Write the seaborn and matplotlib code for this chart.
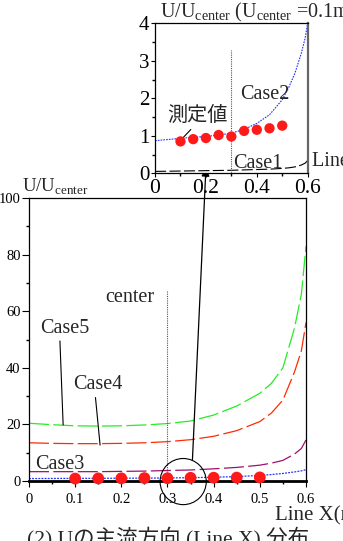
import numpy as np
import pandas as pd
import matplotlib
matplotlib.use("Agg")
import matplotlib.pyplot as plt
from matplotlib.patches import Ellipse
import seaborn as sns

# ---- data ----
line_x = [0, 0.05, 0.1, 0.15, 0.2, 0.25, 0.3, 0.35, 0.4, 0.45, 0.5, 0.525, 0.55, 0.575, 0.59, 0.6]
case1 = [0.05, 0.055, 0.06, 0.065, 0.07, 0.075, 0.08, 0.09, 0.10, 0.11, 0.13, 0.145, 0.17, 0.22, 0.27, 0.34]
case2 = [0.87, 0.90, 0.93, 0.96, 0.98, 1.02, 1.07, 1.17, 1.33, 1.56, 1.96, 2.28, 2.67, 3.2, 3.6, 4.0]
case3 = [3.3, 3.3, 3.3, 3.3, 3.4, 3.5, 3.7, 3.9, 4.3, 4.8, 5.6, 6.3, 7.3, 9.5, 11.5, 14.5]
case4 = [13.5, 13.3, 13.2, 13.2, 13.3, 13.5, 13.9, 14.6, 15.8, 17.8, 21.0, 24.0, 28.6, 38.5, 46.0, 56.0]
case5 = [20.4, 19.9, 19.5, 19.4, 19.5, 19.8, 20.3, 21.2, 23.3, 26.5, 31.0, 34.5, 40.0, 54.0, 66.0, 83.0]

meas_x = [0.1, 0.15, 0.2, 0.25, 0.3, 0.35, 0.4, 0.45, 0.5]
meas_y = [0.85, 0.91, 0.94, 1.02, 0.98, 1.13, 1.16, 1.20, 1.27]

main_xticks = [0, 0.1, 0.2, 0.3, 0.4, 0.5, 0.6]
main_xlabels = ["0", "0.1", "0.2", "0.3", "0.4", "0.5", "0.6"]
main_yticks = [0, 20, 40, 60, 80, 100]
inset_xticks = [0, 0.2, 0.4, 0.6]
inset_xlabels = ["0", "0.2", "0.4", "0.6"]
inset_yticks = [0, 1, 2, 3, 4]

sns.set_theme(style="ticks")
plt.rcParams.update({
    "font.family": ["Liberation Serif", "Noto Sans CJK JP"],
    "mathtext.fontset": "custom",
    "mathtext.rm": "Liberation Serif",
    "axes.linewidth": 0.9,
    "axes.edgecolor": "black",
    "xtick.color": "black",
    "ytick.color": "black",
    "xtick.major.size": 4.5,
    "ytick.major.size": 5,
    "xtick.minor.size": 2.5,
    "ytick.minor.size": 2.5,
    "xtick.major.width": 0.8,
    "ytick.major.width": 0.8,
})

df = pd.DataFrame({"x": line_x, "c1": case1, "c2": case2, "c3": case3, "c4": case4, "c5": case5})
dm = pd.DataFrame({"x": meas_x, "y": meas_y})

fig = plt.figure(figsize=(3.43, 5.41), dpi=100)
ax = fig.add_axes([0.0845, 0.1109, 0.8076, 0.5231])
ax_in = fig.add_axes([0.452, 0.6797, 0.445, 0.2773])

long_dash = (0, (16, 3.5))

# ---- main chart ----
sns.lineplot(data=df, x="x", y="c5", ax=ax, color="#22ee22", lw=0.9, linestyle=long_dash)
sns.lineplot(data=df, x="x", y="c4", ax=ax, color="#ff2a00", lw=0.9, linestyle=long_dash)
sns.lineplot(data=df, x="x", y="c3", ax=ax, color="#a0106a", lw=0.9, linestyle=long_dash)
sns.lineplot(data=df, x="x", y="c2", ax=ax, color="#2233ff", lw=0.9, linestyle=(0, (1.5, 1)))
sns.scatterplot(data=dm, x="x", y="y", ax=ax, color="#ff1a1a", s=72, edgecolor="none",
                zorder=5, clip_on=False)

ax.set_xlim(0, 0.6)
ax.set_ylim(0, 100)
ax.set_xticks(main_xticks, main_xlabels, fontsize=10.5)
ax.set_xticks(np.arange(0.05, 0.6, 0.1), minor=True)
ax.set_yticks(main_yticks, [str(v) for v in main_yticks], fontsize=10.5)
ax.set_yticks(np.arange(10, 100, 20), minor=True)
ax.set_xlabel("")
ax.set_ylabel("")
ax.tick_params(axis="x", pad=4)
ax.tick_params(axis="y", pad=1)
ax.spines["bottom"].set_linewidth(2.0)
ax.axvline(0.3, ymax=0.67, color="#555555", lw=0.8, ls=(0, (1, 1)))

ax.text(-0.026, 1.04, r"U/U$_{\mathrm{center}}$", transform=ax.transAxes,
        ha="left", va="center", fontsize=13.5)
ax.text(0.888, -0.124, "Line X(m)", transform=ax.transAxes, ha="left", va="center",
        fontsize=15)
ax.text(0.165, 65, "center", ha="left", va="center", fontsize=14.5)
ax.annotate("Case5", xy=(0.074, 19.8), xytext=(0.024, 54), ha="left", va="center",
            fontsize=14.5, arrowprops=dict(arrowstyle="-", color="black", lw=0.8,
                                           shrinkA=0, shrinkB=0, relpos=(0.4, 0.05)))
ax.annotate("Case4", xy=(0.154, 12.7), xytext=(0.095, 34), ha="left", va="center",
            fontsize=14.5, arrowprops=dict(arrowstyle="-", color="black", lw=0.8,
                                           shrinkA=0, shrinkB=0, relpos=(0.45, 0.05)))
ax.text(0.013, 6.0, "Case3", ha="left", va="center", fontsize=14.5)

circ = Ellipse((0.334, -0.2), width=0.1, height=16.3, fill=False, edgecolor="black",
               lw=0.8, clip_on=False, zorder=6)
ax.add_patch(circ)

# ---- inset ----
sns.lineplot(data=df, x="x", y="c2", ax=ax_in, color="#2233ff", lw=0.8, linestyle=(0, (1.5, 1)))
sns.lineplot(data=df, x="x", y="c1", ax=ax_in, color="black", lw=0.8, linestyle=(0, (10, 3)))
sns.scatterplot(data=dm, x="x", y="y", ax=ax_in, color="#ff1a1a", s=55, edgecolor="none",
                zorder=5)
ax_in.set_xlim(0, 0.6)
ax_in.set_ylim(0, 4)
ax_in.set_xticks(inset_xticks, inset_xlabels, fontsize=15.5)
ax_in.set_xticks([0.1, 0.3, 0.5], minor=True)
ax_in.set_yticks(inset_yticks, [str(v) for v in inset_yticks], fontsize=15)
ax_in.set_yticks([0.5, 1.5, 2.5, 3.5], minor=True)
ax_in.set_xlabel("")
ax_in.set_ylabel("")
ax_in.tick_params(axis="both", pad=1, length=3)
ax_in.spines["right"].set_linewidth(1.6)
ax_in.spines["right"].set_color("#666666")
ax_in.axvline(0.3, ymax=3.3 / 4, color="#555555", lw=0.8, ls=(0, (1, 1)))

ax_in.text(0.033, 1.075, r"U/U$_{\mathrm{center}}$ (U$_{\mathrm{center}}$ =0.1m/s)",
           transform=ax_in.transAxes, ha="left", va="center", fontsize=14.5)
ax_in.text(1.03, 0.075, "Line X(m)", transform=ax_in.transAxes, ha="left", va="center",
           fontsize=14.5)
ax_in.text(0.334, 2.09, "Case2", ha="left", va="center", fontsize=14.5)
ax_in.text(0.307, 0.27, "Case1", ha="left", va="center", fontsize=14.5)
ax_in.annotate("測定値", xy=(0.095, 0.84), xytext=(0.046, 1.51), ha="left", va="center",
               fontsize=14.5, arrowprops=dict(arrowstyle="-", color="black", lw=0.8,
                                              shrinkA=0, shrinkB=0, relpos=(0.45, 0.0)))

# arrow from circle up to inset
ax.annotate("", xy=(0.2, 0.14), xycoords=ax_in.transData, xytext=(0.354, 7.4),
            textcoords=ax.transData, annotation_clip=False,
            arrowprops=dict(arrowstyle="-|>", color="black", lw=0.9, mutation_scale=12,
                            shrinkA=0, shrinkB=0))

fig.text(0.49, 0.006, "(2) Uの主流方向 (Line X) 分布", ha="center", va="center", fontsize=15.5)

fig.savefig("out.png", dpi=100)
